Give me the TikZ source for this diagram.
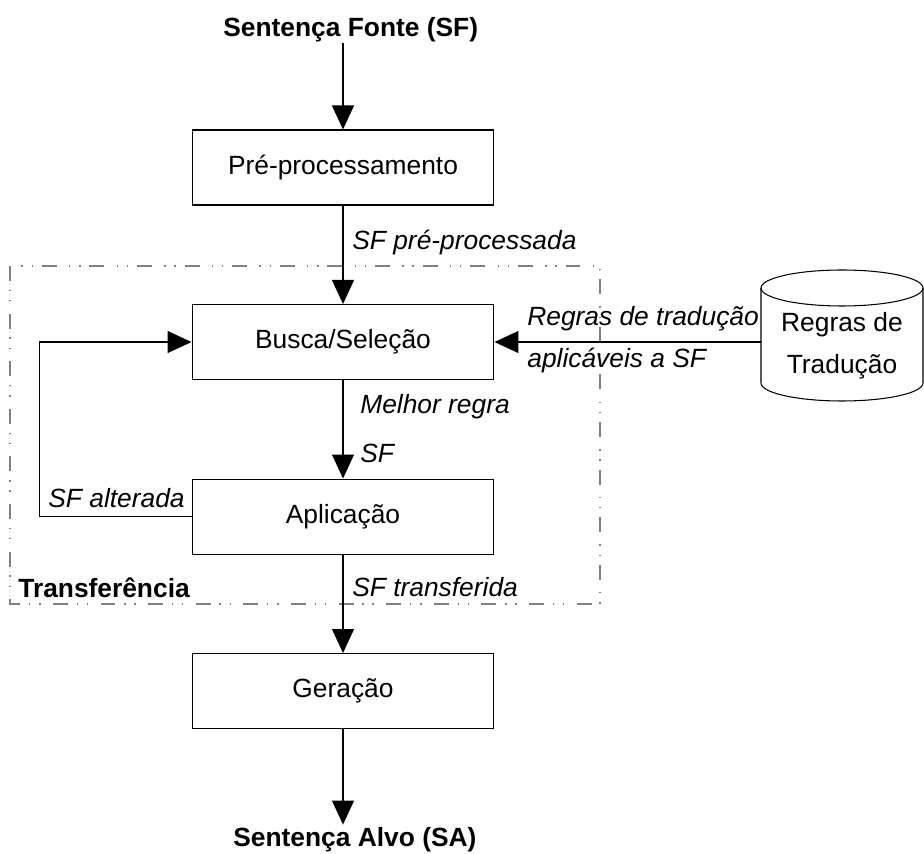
\documentclass[tikz,border=0pt]{standalone}
\usepackage{fontspec}
\setmainfont{Liberation Sans}
\usetikzlibrary{positioning,arrows.meta}

\begin{document}
\begin{tikzpicture}[x=0.02cm,y=-0.02cm,node distance=1.97cm,
  font=\fontsize{15}{24}\selectfont,
  box/.style={draw=black,rectangle,minimum width=6.04cm,minimum height=1.5cm,line width=0.6pt,inner sep=0pt},
  arrow/.style={-{Triangle[length=4.8mm,width=4.4mm]},draw=black,line width=0.6pt},
  link/.style={draw=black,line width=0.6pt},
  lbl/.style={font=\fontsize{15}{24}\selectfont\itshape,inner sep=0pt,align=left},
  title/.style={font=\fontsize{15}{24}\selectfont\bfseries,inner sep=0pt},
  frame/.style={draw=gray,line width=0.6pt,dash pattern=on 8.5pt off 5pt on 0.8pt off 5pt on 0.8pt off 7pt}]
  \useasboundingbox (0,0) rectangle (924,854);
  % main chain
  \node[box] (pre) at (343,167.5) {Pré-processamento};
  \node[box,below=of pre] (busca) {Busca/Seleção};
  \node[box,below=of busca] (aplic) {Aplicação};
  \node[box,below=of aplic] (ger) {Geração};
  \node[title,anchor=base west] (sf) at (223,37) {Sentença Fonte (SF)};
  \node[title,anchor=base west] (sa) at (233,847) {Sentença Alvo (SA)};
  % transfer frame
  \draw[frame] (10,266) rectangle (600,604);
  \node[title,anchor=base west] (transf) at (18,598) {Transferência};
  % rule base
  \draw[link] (761,288) -- (761,383) arc[start angle=180,end angle=360,x radius=1.62cm,y radius=0.36cm] -- (923,288);
  \draw[link] (842,288) ellipse [x radius=1.62cm,y radius=0.36cm];
  \node[minimum width=3.24cm,inner sep=0pt,align=center] (db) at (842,346) {Regras de\\Tradução};
  % connectors
  \draw[arrow] (sf.south -| pre.north) -- (pre.north);
  \draw[arrow] (pre) -- (busca);
  \draw[arrow] (busca) -- (aplic);
  \draw[arrow] (aplic) -- (ger);
  \draw[arrow,shorten >=0.06cm] (ger) -- (sa.north -| ger.south);
  \draw[arrow] (db.west |- busca) -- (busca);
  \draw[arrow] (aplic.west) -- ++(-152,0) |- (busca.west);
  % labels
  \node[lbl,anchor=base west] (lpre) at (352,250) {SF pré-processada};
  \node[lbl,anchor=north west] (lregras) at (527,306) {Regras de tradução\\aplicáveis a SF};
  \node[lbl,anchor=north west] (lmelhor) at (360,394) {Melhor regra\\[3.8pt]SF};
  \node[lbl,anchor=base east] (lalt) at (185,508) {SF alterada};
  \node[lbl,anchor=base west] (ltransf) at (352,597) {SF transferida};
\end{tikzpicture}
\end{document}
